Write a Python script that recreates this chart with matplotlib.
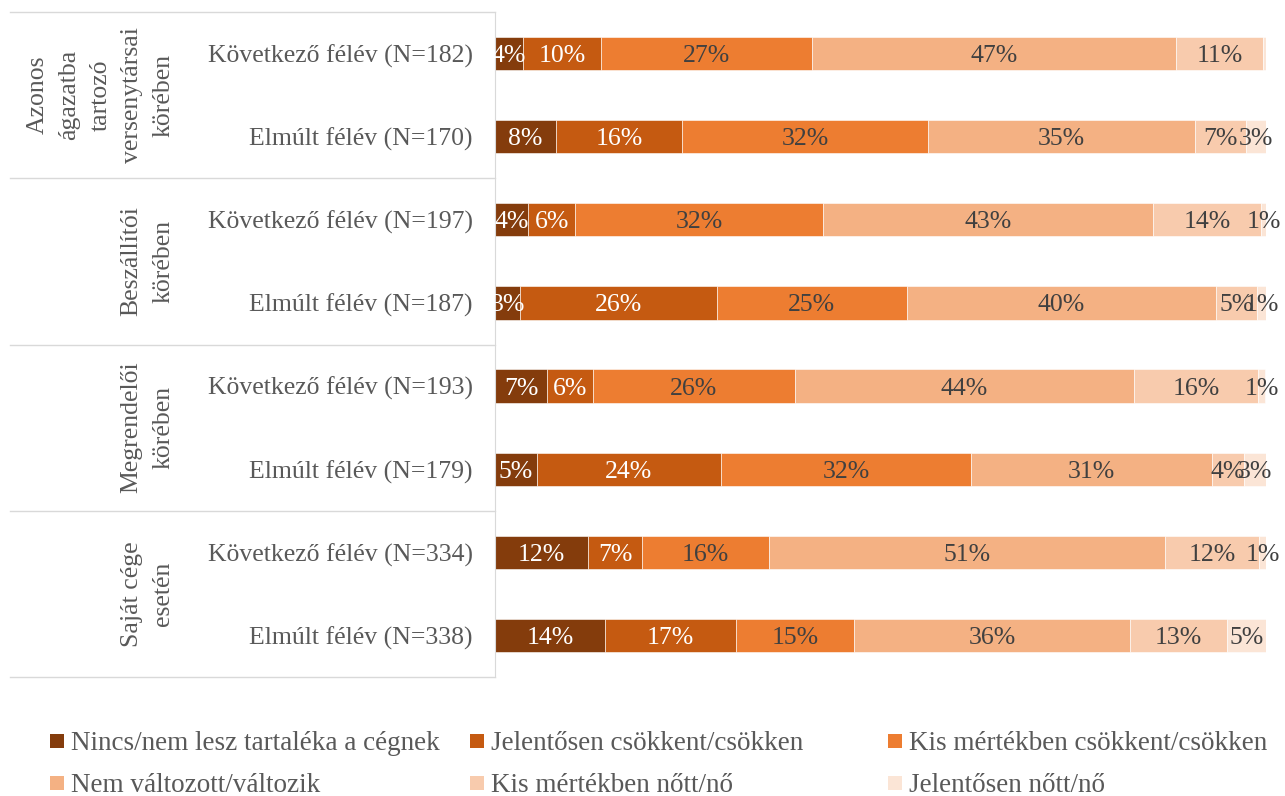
import matplotlib

matplotlib.use("Agg")
import matplotlib.pyplot as plt
from matplotlib.patches import Rectangle
from matplotlib.transforms import blended_transform_factory

plt.rcParams["font.family"] = ["Liberation Serif", "DejaVu Serif"]

W, H = 1285, 796

row_labels = [
    "Következő félév (N=182)", "Elmúlt félév (N=170)",
    "Következő félév (N=197)", "Elmúlt félév (N=187)",
    "Következő félév (N=193)", "Elmúlt félév (N=179)",
    "Következő félév (N=334)", "Elmúlt félév (N=338)",
]
group_labels = [
    "Azonos\nágazatba\ntartozó\nversenytársai\nkörében",
    "Beszállítói\nkörében",
    "Megrendelői\nkörében",
    "Saját cége\nesetén",
]
series_names = [
    "Nincs/nem lesz tartaléka a cégnek",
    "Jelentősen csökkent/csökken",
    "Kis mértékben csökkent/csökken",
    "Nem változott/változik",
    "Kis mértékben nőtt/nő",
    "Jelentősen nőtt/nő",
]
nincs = [3.6, 7.9, 4.3, 3.3, 6.8, 5.4, 12.1, 14.3]
jelentosen_csokken = [10.2, 16.4, 6.1, 25.5, 5.9, 23.9, 7.0, 16.9]
kis_csokken = [27.3, 31.8, 32.1, 24.6, 26.2, 32.5, 16.4, 15.4]
nem_valtozik = [47.2, 34.7, 42.9, 40.1, 44.0, 31.2, 51.4, 35.7]
kis_no = [11.3, 6.6, 14.0, 5.3, 16.1, 4.1, 12.2, 12.7]
jelentosen_no = [0.4, 2.6, 0.6, 1.2, 0.9, 2.9, 0.9, 5.0]

series = [nincs, jelentosen_csokken, kis_csokken, nem_valtozik, kis_no, jelentosen_no]
colors = ["#843C0C", "#C55A11", "#ED7D31", "#F4B183", "#F8CBAD", "#FBE5D6"]
label_colors = ["white", "white", "#404040", "#404040", "#404040", "#404040"]
FS = 18.5

fig = plt.figure(figsize=(W / 100, H / 100), dpi=100)
ax = fig.add_axes([495 / W, 1 - 677 / H, 771 / W, 665 / H])

y = list(range(len(row_labels)))
left = [0.0] * len(row_labels)
for vals, col, tcol in zip(series, colors, label_colors):
    ax.barh(y, vals, left=left, height=0.4, color=col, edgecolor="white", linewidth=0.4)
    for yi, v, l in zip(y, vals, left):
        txt = f"{v:.0f}%"
        if txt != "0%":
            ax.text(l + v / 2, yi, txt, ha="center", va="center_baseline",
                    color=tcol, fontsize=FS)
    left = [l + v for l, v in zip(left, vals)]

ax.set_xlim(0, 100)
ax.set_ylim(7.5, -0.5)
ax.set_xticks([])
ax.set_yticks(y)
ax.set_yticklabels(row_labels, fontsize=FS, color="#595959")
ax.tick_params(axis="y", length=0, pad=16)
for s in ["top", "right", "bottom"]:
    ax.spines[s].set_visible(False)
ax.spines["left"].set_color("#D9D9D9")

# table lines for the category groups
tr = blended_transform_factory(ax.transAxes, ax.transData)
x0 = (10 - 495) / 771
for yb in [-0.5, 1.5, 3.5, 5.5, 7.5]:
    ax.plot([x0, 0], [yb, yb], transform=tr, color="#D9D9D9", lw=1, clip_on=False)

gtr = blended_transform_factory(fig.transFigure, ax.transData)
for i, g in enumerate(group_labels):
    ax.text(174 / W, 2 * i + 0.5, g, transform=gtr,
            rotation=90, ha="right", va="center", multialignment="center",
            fontsize=FS, color="#595959", linespacing=1.55)

# legend, two rows of three
leg_x = [50, 470, 888]
leg_y = [741, 783]
for k, (name, col) in enumerate(zip(series_names, colors)):
    cx = leg_x[k % 3]
    cy = leg_y[k // 3]
    fig.patches.append(Rectangle((cx / W, 1 - (cy + 7) / H), 14 / W, 14 / H,
                                 transform=fig.transFigure, facecolor=col,
                                 edgecolor="none"))
    fig.text((cx + 21) / W, 1 - cy / H, name, ha="left", va="center_baseline",
             fontsize=19.5, color="#595959")

fig.savefig("out.png", dpi=100)
